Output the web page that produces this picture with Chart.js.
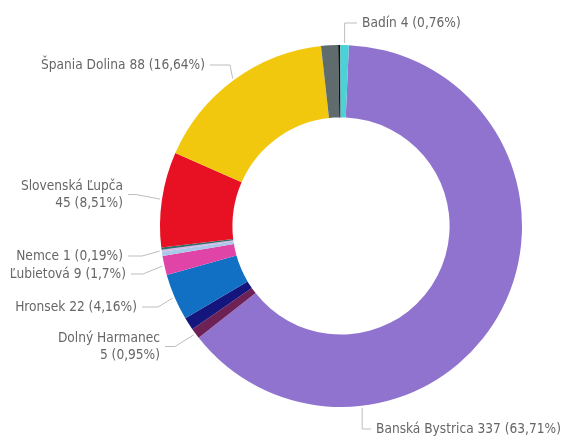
<!DOCTYPE html>
<html lang="sk">
<head>
    <meta charset="UTF-8">
    <script src="https://cdn.jsdelivr.net/npm/chart.js"></script>
    <title>Obce</title>
    <style>
        body{
            margin: 0;
            padding: 0;
            background-color: #fff;
        }
        #wrap {
            width: 568px;
            height: 438px;
        }
    </style>
</head>
<body>
    <div id="wrap"><canvas id="obceChart" width="568" height="438"></canvas></div>

    <script>
        // obce v poradí od vrchu v smere hodinových ručičiek
        const obce = ['Banská Bystrica', 'Dolný Harmanec', '', 'Hronsek', 'Ľubietová', '', 'Nemce', '', 'Slovenská Ľupča', 'Špania Dolina', '', '', 'Badín'];
        const pocty = [337, 5, 6, 22, 9, 2, 1, 1, 45, 88, 8, 1, 4];
        const farby = ['#9073CE', '#6E2155', '#15157E', '#1170C4', '#E044A7', '#A9C8EA', '#D7B6E6', '#2F6E6A', '#E81123', '#F2C80F', '#5F6B6D', '#111111', '#4CD2D6'];

        // umiestnenie popiskov (text, zlom čiary)
        const popisky = {
            'Badín':           { x: 362, y: 23,  align: 'left',  vert: true },
            'Špania Dolina':   { x: 205, y: 65,  align: 'right', leg: 20 },
            'Slovenská Ľupča': { x: 123, y: 186, align: 'right', leg: 8, dve: true },
            'Nemce':           { x: 123, y: 256, align: 'right', leg: 14 },
            'Ľubietová':       { x: 126, y: 274, align: 'right', leg: 12 },
            'Hronsek':         { x: 137, y: 307, align: 'right', leg: 16 },
            'Dolný Harmanec':  { x: 160, y: 338, align: 'right', leg: 10, dve: true },
            'Banská Bystrica': { x: 376, y: 429, align: 'left',  vert: true, at: 0.745 }
        };

        const spolu = pocty.reduce((a, b) => a + b, 0);

        function percento(v) {
            return Number((v / spolu * 100).toFixed(2)).toString().replace('.', ',') + '%';
        }

        const popiskyPlugin = {
            id: 'popisky',
            afterDraw(chart) {
                const ctx = chart.ctx;
                const meta = chart.getDatasetMeta(0);
                ctx.save();
                ctx.font = '13.6px "DejaVu Sans Condensed", "DejaVu Sans", sans-serif';
                ctx.textBaseline = 'middle';
                meta.data.forEach((arc, i) => {
                    const p = popisky[obce[i]];
                    if (!p) return;
                    const frac = p.at !== undefined ? p.at : 0.5;
                    const a = arc.startAngle + (arc.endAngle - arc.startAngle) * frac;
                    const r = arc.outerRadius + 2;
                    const ax = arc.x + Math.cos(a) * r;
                    const ay = arc.y + Math.sin(a) * r;

                    const riadok1 = p.dve ? obce[i] : obce[i] + ' ' + pocty[i] + ' (' + percento(pocty[i]) + ')';
                    const riadok2 = p.dve ? pocty[i] + ' (' + percento(pocty[i]) + ')' : null;
                    const lineY = p.dve ? p.y + 8.5 : p.y;

                    // čiara
                    const koniecX = p.align === 'left' ? p.x - 5 : p.x + 5;
                    let zlomX;
                    if (p.vert) zlomX = ax;
                    else zlomX = p.align === 'left' ? koniecX - p.leg : koniecX + p.leg;
                    ctx.strokeStyle = '#BDBDBD';
                    ctx.lineWidth = 1;
                    ctx.beginPath();
                    ctx.moveTo(ax, ay);
                    ctx.lineTo(zlomX, lineY);
                    ctx.lineTo(koniecX, lineY);
                    ctx.stroke();

                    // text
                    ctx.fillStyle = '#666666';
                    ctx.textAlign = p.align;
                    ctx.fillText(riadok1, p.x, p.y);
                    if (riadok2) ctx.fillText(riadok2, p.x, p.y + 17);
                });
                ctx.restore();
            }
        };

        new Chart(document.getElementById('obceChart'), {
            type: 'doughnut',
            data: {
                labels: obce,
                datasets: [{
                    data: pocty,
                    backgroundColor: farby,
                    borderWidth: 0,
                    hoverBorderWidth: 0,
                    hoverOffset: 0
                }]
            },
            options: {
                responsive: false,
                animation: false,
                cutout: '60%',
                rotation: 2.5,
                layout: {
                    padding: { top: 45, bottom: 31, left: 160, right: 46 }
                },
                plugins: {
                    legend: { display: false },
                    tooltip: { enabled: false }
                }
            },
            plugins: [popiskyPlugin]
        });
    </script>
</body>
</html>
